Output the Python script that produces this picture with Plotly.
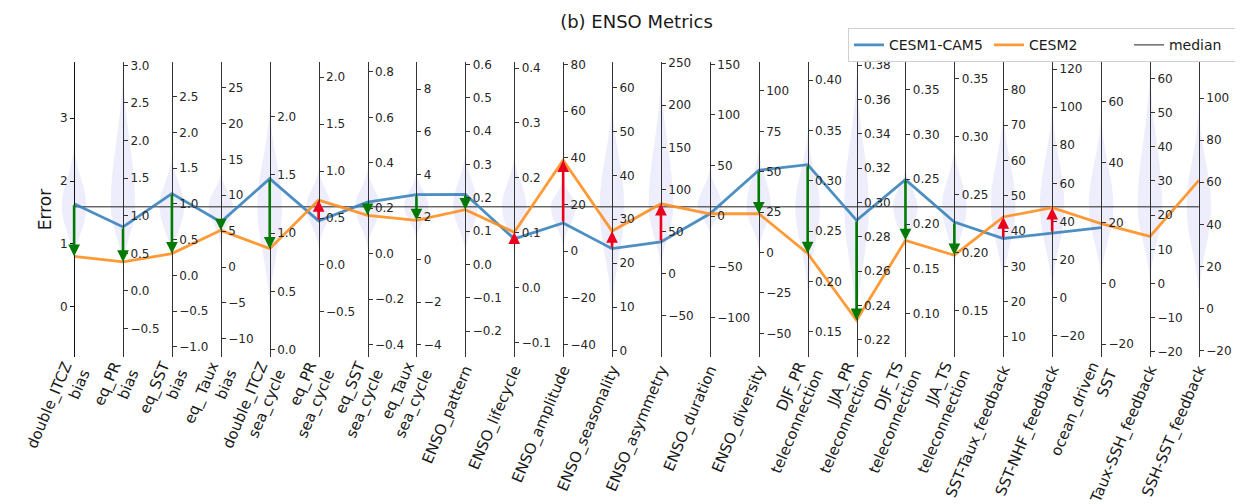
import plotly.graph_objects as go

# ---------------- data ----------------
METRICS = [
    "double_ITCZ<br>bias", "eq_PR<br>bias", "eq_SST<br>bias", "eq_ Taux<br>bias",
    "double_ITCZ<br>sea_cycle", "eq_PR<br>sea_cycle", "eq_SST<br>sea_cycle", "eq_Taux<br>sea_cycle",
    "ENSO_pattern", "ENSO_lifecycle", "ENSO_amplitude", "ENSO_seasonality",
    "ENSO_asymmetry", "ENSO_duration", "ENSO_diversity",
    "DJF_PR<br>teleconnection", "JJA_PR<br>teleconnection",
    "DJF_TS<br>teleconnection", "JJA_TS<br>teleconnection",
    "SST-Taux_feedback", "SST-NHF_feedback", "ocean_driven<br>SST",
    "Taux-SSH_feedback", "SSH-SST_feedback",
]

# range of each metric's own axis (bottom, top)
AXIS_MIN = [-0.794, -0.878, -1.144, -12.53, -0.063, -0.98, -0.455, -4.57,
            -0.278, -0.126, -45.4, -1.37, -99.0, -138.9, -64.6,
            0.125, 0.2099, 0.0516, 0.1104, 4.33, -31.2, -24.2, -21.5, -23.0]
AXIS_MAX = [3.889, 3.045, 2.987, 28.55, 2.467, 2.161, 0.844, 9.28,
            0.607, 0.411, 81.0, 65.8, 251.3, 152.3, 117.9,
            0.418, 0.3819, 0.3808, 0.3643, 87.9, 123.7, 73.1, 64.8, 117.1]
AXIS_DTICK = [1, 0.5, 0.5, 5, 0.5, 0.5, 0.2, 2,
              0.1, 0.1, 20, 10, 50, 50, 25,
              0.05, 0.02, 0.05, 0.05, 10, 20, 20, 10, 20]
AXIS_FMT = ["", ".1f", ".1f", "", ".1f", ".1f", ".1f", "",
            ".1f", ".1f", "", "", "", "", "",
            ".2f", ".2f", ".2f", ".2f", "", "", "", "", ""]

CESM1_CAM5 = [1.64, 0.851, 1.144, 6.27, 1.467, 0.47, 0.227, 3.05,
              0.21, 0.089, 12.0, 23.3, 37.7, 2.5, 50.9,
              0.316, 0.2896, 0.2496, 0.2266, 37.9, 33.9, 18.5, None, None]
CESM2 = [0.805, 0.386, 0.304, 5.11, 0.866, 0.691, 0.169, 1.845,
         0.164, 0.101, 38.9, 27.3, 82.9, 2.5, 24.1,
         0.2278, 0.2313, 0.1818, 0.198, 44.0, 47.2, 19.8, 13.8, 60.9]

# median of the model ensemble, on the shared "Error" scale
MEDIAN_ERROR = 1.59

# extent of each ensemble distribution (violin), on the shared "Error" scale
VIOLIN_LO = [0.71, 0.61, 0.77, 0.98, -0.02, 0.93, 0.93, 1.09, 0.87, 0.82, 0.93, -0.13,
             0.58, 1.17, 0.90, 0.22, -0.32, 0.85, 0.63, 0.31, 0.22, 0.42, 0.38, 0.15]
VIOLIN_HI = [2.57, 3.79, 2.41, 2.14, 3.20, 2.20, 2.20, 2.14, 2.46, 2.41, 2.04, 3.31,
             3.71, 2.22, 2.54, 2.80, 3.73, 2.22, 2.54, 3.17, 3.23, 3.07, 3.80, 3.17]

# ---------------- layout geometry ----------------
N = len(METRICS)
LO0, HI0 = AXIS_MIN[0], AXIS_MAX[0]
XPAD = 0.35
XMIN, XMAX = -XPAD, N - 1 + XPAD
PAGE_OFF = 8                      # default page margin of the browser body
FIRST_AX_PX, LAST_AX_PX = 74 - PAGE_OFF, 1199 - PAGE_OFF
TOP_PX, BOTTOM_PX = 61.7 - PAGE_OFF, 356.7 - PAGE_OFF
UNIT_PX = (LAST_AX_PX - FIRST_AX_PX) / (N - 1)
ML = FIRST_AX_PX - XPAD * UNIT_PX
MR = 1243 - (LAST_AX_PX + XPAD * UNIT_PX)
PLOT_W = 1243 - ML - MR
PLOT_H = BOTTOM_PX - TOP_PX


def to_error_scale(v, k):
    """Map a value on metric k's own axis onto the shared first (Error) axis."""
    return LO0 + (v - AXIS_MIN[k]) / (AXIS_MAX[k] - AXIS_MIN[k]) * (HI0 - LO0)


def violin_path(x, lo, hi, mid, w):
    mid = min(max(mid, lo + 0.05), hi - 0.05)
    up, dn = hi - mid, mid - lo
    return (
        f"M {x},{hi} "
        f"C {x + 0.15 * w},{hi - 0.45 * up} {x + w},{mid + 0.35 * up} {x + w},{mid} "
        f"C {x + w},{mid - 0.35 * dn} {x + 0.15 * w},{lo + 0.45 * dn} {x},{lo} "
        f"C {x - 0.15 * w},{lo + 0.45 * dn} {x - w},{mid - 0.35 * dn} {x - w},{mid} "
        f"C {x - w},{mid + 0.35 * up} {x - 0.15 * w},{hi - 0.45 * up} {x},{hi} Z"
    )


BLUE = "rgba(52,128,186,0.88)"
ORANGE = "rgba(255,140,26,0.88)"
FONT = "DejaVu Sans"

fig = go.Figure()

# invisible traces so every metric axis exists
for k in range(1, N):
    fig.add_trace(go.Scatter(
        x=[k, k], y=[AXIS_MIN[k], AXIS_MAX[k]], yaxis=f"y{k + 1}",
        mode="lines", line=dict(width=0, color="rgba(0,0,0,0)"),
        hoverinfo="skip", showlegend=False))

# median line
fig.add_trace(go.Scatter(
    x=[0, N - 1], y=[MEDIAN_ERROR, MEDIAN_ERROR], mode="lines",
    line=dict(color="#222222", width=1), name="median", legendrank=3))

# model lines
bx = [k for k in range(N) if CESM1_CAM5[k] is not None]
fig.add_trace(go.Scatter(
    x=bx, y=[to_error_scale(CESM1_CAM5[k], k) for k in bx], mode="lines",
    line=dict(color=BLUE, width=2.8), name="CESM1-CAM5", legendrank=1))
ox = [k for k in range(N) if CESM2[k] is not None]
fig.add_trace(go.Scatter(
    x=ox, y=[to_error_scale(CESM2[k], k) for k in ox], mode="lines",
    line=dict(color=ORANGE, width=2.8), name="CESM2", legendrank=2))

# violins (background)
shapes = []
for k in range(N):
    shapes.append(dict(
        type="path", xref="x", yref="y", layer="below",
        path=violin_path(k, VIOLIN_LO[k], VIOLIN_HI[k], MEDIAN_ERROR, 0.25),
        fillcolor="rgba(185,185,240,0.26)", line=dict(width=0)))

# arrows from CESM1-CAM5 to CESM2
annotations = []
for k in range(N):
    a, b = CESM1_CAM5[k], CESM2[k]
    if a is None or b is None or a == b:
        continue
    ya, yb = to_error_scale(a, k), to_error_scale(b, k)
    annotations.append(dict(
        x=k, y=yb, ax=k, ay=ya, xref="x", yref="y", axref="x", ayref="y",
        text="", showarrow=True, arrowhead=2, arrowsize=0.9, arrowwidth=2.6,
        arrowcolor="#007a00" if yb < ya else "#e8001c",
        standoff=0, startstandoff=0))

layout = dict(
    width=1243, height=504,
    margin=dict(l=ML, r=MR, t=TOP_PX, b=504 - BOTTOM_PX, autoexpand=False),
    paper_bgcolor="white", plot_bgcolor="white",
    font=dict(family=FONT, size=12, color="#262626"),
    title=dict(text="(b) ENSO Metrics", x=0.5, xref="paper", xanchor="center",
               y=1 - (22 - PAGE_OFF) / 504, yref="container", yanchor="middle",
               font=dict(family=FONT, size=18, color="#1a1a1a")),
    showlegend=True,
    legend=dict(orientation="h", x=(848 - PAGE_OFF - ML) / PLOT_W,
                y=1 + (TOP_PX - (28 - PAGE_OFF)) / PLOT_H, xanchor="left", yanchor="top",
                bgcolor="rgba(255,255,255,0.9)", bordercolor="#d0d0d0", borderwidth=1,
                font=dict(family=FONT, size=14, color="#1a1a1a"),
                entrywidth=95, entrywidthmode="pixels", traceorder="normal"),
    xaxis=dict(range=[XMIN, XMAX], tickmode="array", tickvals=list(range(N)),
               ticktext=METRICS, tickangle=-67, showline=False, showgrid=False,
               zeroline=False, ticks="", tickfont=dict(family=FONT, size=15, color="#1a1a1a")),
    yaxis=dict(range=[LO0, HI0], anchor="free", position=(0 - XMIN) / (XMAX - XMIN),
               side="left", showline=True, linecolor="#111111", linewidth=1,
               ticks="outside", ticklen=4, tickcolor="#111111",
               tickmode="linear", tick0=0, dtick=AXIS_DTICK[0],
               showgrid=False, zeroline=False,
               title=dict(text="Error", font=dict(family=FONT, size=17, color="#1a1a1a"), standoff=3)),
    shapes=shapes, annotations=annotations,
)
for k in range(1, N):
    ax = dict(range=[AXIS_MIN[k], AXIS_MAX[k]], overlaying="y", anchor="free",
              position=(k - XMIN) / (XMAX - XMIN), side="right",
              showline=True, linecolor="#333333", linewidth=1,
              ticks="outside", ticklen=4, tickcolor="#333333",
              tickmode="linear", tick0=0, dtick=AXIS_DTICK[k],
              showgrid=False, zeroline=False,
              tickfont=dict(family=FONT, size=12, color="#262626"))
    if AXIS_FMT[k]:
        ax["tickformat"] = AXIS_FMT[k]
    layout[f"yaxis{k + 1}"] = ax

fig.update_layout(**layout)
fig.write_html("out.html")
